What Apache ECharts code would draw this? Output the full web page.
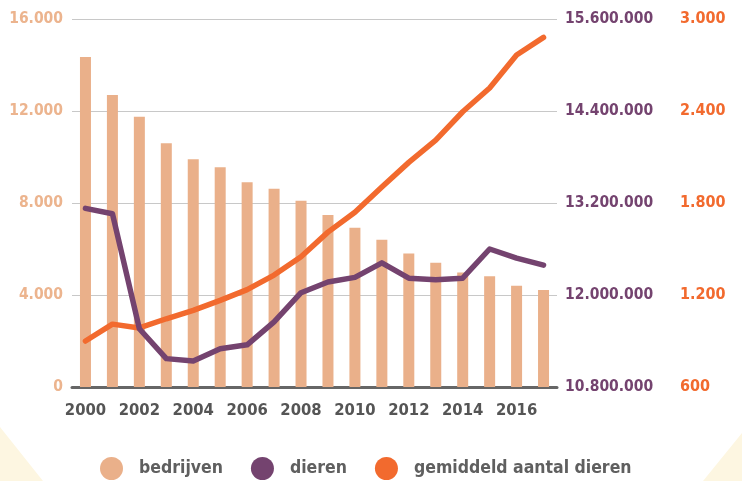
<!DOCTYPE html>
<html>
<head>
  <meta charset="utf-8">
  <title>bedrijven en dieren</title>
  <style type="text/css">
    html, body, #main {
      height: 100%;
      width: 100%;
      margin: 0;
      padding: 0;
      background: #ffffff;
    }
  </style>
  <script src="https://cdn.jsdelivr.net/npm/echarts@6/dist/echarts.min.js"></script>
</head>
<body>
  <div id="main"></div>
  <script>
    var years = ['2000', '2001', '2002', '2003', '2004', '2005', '2006', '2007', '2008',
      '2009', '2010', '2011', '2012', '2013', '2014', '2015', '2016', '2017'];
    var bedrijven = [14350, 12700, 11750, 10600, 9900, 9550, 8900, 8620, 8100,
      7480, 6920, 6400, 5800, 5400, 4980, 4820, 4400, 4220];
    var dieren = [13130000, 13060000, 11560000, 11170000, 11140000, 11300000, 11350000, 11650000, 12030000,
      12170000, 12230000, 12420000, 12220000, 12200000, 12220000, 12600000, 12480000, 12390000];
    var gemiddeld = [900, 1010, 985, 1045, 1100, 1165, 1235, 1330, 1450,
      1610, 1740, 1905, 2065, 2210, 2395, 2550, 2765, 2880];

    var leftTicks = [0, 16000, 4000];
    var midTicks = [10800000, 15600000, 1200000];
    var rightTicks = [600, 3000, 600];

    var font = "'DejaVu Sans Condensed', 'Liberation Sans Narrow', sans-serif";
    var dots = function (v) {
      return String(v).replace(/\B(?=(\d{3})+(?!\d))/g, '.');
    };

    var myChart = echarts.init(document.getElementById('main'));
    myChart.setOption({
      animation: false,
      textStyle: { fontFamily: font },
      graphic: [
        { type: 'polygon', z: -10, shape: { points: [[0, 427], [0, 481], [43, 481]] }, style: { fill: '#fdf6e1' } },
        { type: 'polygon', z: -10, shape: { points: [[742, 433], [742, 481], [703, 481]] }, style: { fill: '#fdf6e1' } }
      ],
      grid: { left: 72, right: 185, top: 19, bottom: 94 },
      legend: {
        left: 95, top: 452,
        itemWidth: 23, itemHeight: 23, itemGap: 28,
        icon: 'circle',
        textStyle: { fontFamily: font, fontSize: 17.5, fontWeight: 'bold', color: '#5f5f5f', padding: [0, 0, 0, 11] },
        data: ['bedrijven', 'dieren', 'gemiddeld aantal dieren']
      },
      xAxis: {
        type: 'category',
        data: years,
        axisLine: { lineStyle: { color: '#666666', width: 3 } },
        axisTick: { alignWithLabel: true, interval: 1, length: 10, lineStyle: { color: '#999999', width: 1 } },
        axisLabel: { interval: 1, margin: 15, fontFamily: font, fontSize: 16.5, fontWeight: 'bold', color: '#555555' }
      },
      yAxis: [
        {
          type: 'value', min: leftTicks[0], max: leftTicks[1], interval: leftTicks[2],
          axisLine: { show: false }, axisTick: { show: false },
          splitLine: { lineStyle: { color: '#c8c8c8', width: 1 } },
          axisLabel: { formatter: dots, margin: 9, fontFamily: font, fontSize: 15.5, fontWeight: 'bold', color: '#ecb48e' }
        },
        {
          type: 'value', position: 'right', min: midTicks[0], max: midTicks[1], interval: midTicks[2],
          axisLine: { show: false }, axisTick: { show: false }, splitLine: { show: false },
          axisLabel: { formatter: dots, margin: 8, fontFamily: font, fontSize: 15.5, fontWeight: 'bold', color: '#74436f' }
        },
        {
          type: 'value', position: 'right', offset: 115, min: rightTicks[0], max: rightTicks[1], interval: rightTicks[2],
          axisLine: { show: false }, axisTick: { show: false }, splitLine: { show: false },
          axisLabel: { formatter: dots, margin: 8, fontFamily: font, fontSize: 16, fontWeight: 'bold', color: '#f26a2e' }
        }
      ],
      series: [
        {
          name: 'bedrijven', type: 'bar', yAxisIndex: 0, barWidth: 11,
          itemStyle: { color: '#eab08a' }, data: bedrijven
        },
        {
          name: 'gemiddeld aantal dieren', type: 'line', yAxisIndex: 2, z: 3,
          symbol: 'none', itemStyle: { color: '#f26a2e' },
          lineStyle: { color: '#f26a2e', width: 5.5, cap: 'round', join: 'round' }, data: gemiddeld
        },
        {
          name: 'dieren', type: 'line', yAxisIndex: 1, z: 4,
          symbol: 'none', itemStyle: { color: '#74436f' },
          lineStyle: { color: '#74436f', width: 5.5, cap: 'round', join: 'round' }, data: dieren
        }
      ]
    });
  </script>
</body>
</html>
